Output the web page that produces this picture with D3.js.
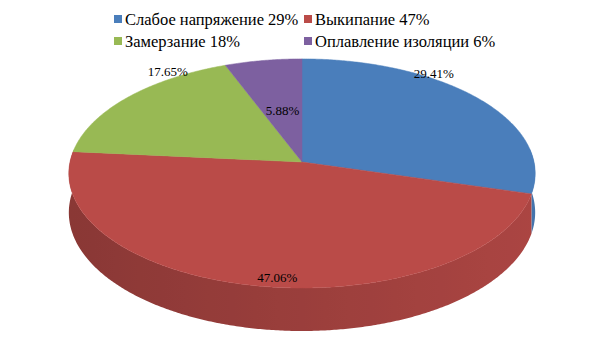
<!DOCTYPE html>
<html><head><meta charset="utf-8">
<script src="https://cdn.jsdelivr.net/npm/d3@7"></script>
<style>body{margin:0;background:#fff}svg{display:block}</style>
</head><body>
<svg id="c" width="605" height="340"></svg>
<script>
// ---- data ----
const categories = ["Слабое напряжение", "Выкипание", "Замерзание", "Оплавление изоляции"];
const values = [29.41, 47.06, 17.65, 5.88];
const legendPercents = ["29%", "47%", "18%", "6%"];
const colors = ["#4A7EBB", "#BA4B48", "#98B954", "#7D60A0"];

// ---- layout ----
const W = 605, H = 340;
const cx = 302, cy = 162;      // pie centre on screen
const rx = 232, ry = 113.4;    // radii
const persp = 0.1;             // perspective factor
const depth = 38.7;            // cylinder height
const labelShift = [-17, -4.6, 17, 0];     // degrees from slice mid angle
const labelRadius = [1.05, 0.93, 1.07, 0.48];

const svg = d3.select("#c");
const defs = svg.append("defs");
const total = d3.sum(values);
const pie = d3.pie().sort(null).value(d => d).startAngle(0).endAngle(2 * Math.PI);
const arcs = pie(values);

function proj(theta, r, dz) {
  const u = r * Math.sin(theta), v = r * Math.cos(theta);
  const w = 1 + persp * v;
  return [cx + rx * u / w, cy - ry * v / w + (dz || 0) / w];
}
function shade(theta) { return 0.17 + 0.09 * (-Math.sin(theta)); }

// side walls: one path per slice (front half), horizontal gradient
const lo = Math.PI / 2 - 0.12, hi = 3 * Math.PI / 2 + 0.12;
const sideG = svg.append("g");
arcs.forEach((a, i) => {
  const a0 = Math.max(a.startAngle, lo), a1 = Math.min(a.endAngle, hi);
  if (a1 <= a0) return;
  const gid = "g" + i;
  const grad = defs.append("linearGradient").attr("id", gid)
    .attr("gradientUnits", "userSpaceOnUse")
    .attr("x1", cx - rx).attr("x2", cx + rx).attr("y1", 0).attr("y2", 0);
  for (let s = 0; s <= 20; s++) {
    const f = s / 20;
    const th = Math.PI + Math.asin(Math.max(-1, Math.min(1, 1 - 2 * f)));
    grad.append("stop").attr("offset", f)
      .attr("stop-color", d3.interpolateRgb(colors[i], "#000")(shade(th)));
  }
  const n = Math.max(2, Math.ceil((a1 - a0) / (Math.PI / 360)));
  const top = [], bot = [];
  for (let j = 0; j <= n; j++) {
    const t = a0 + (a1 - a0) * j / n;
    top.push(proj(t, 1, 0));
    bot.push(proj(t, 1, depth));
  }
  const pts = top.concat(bot.reverse());
  sideG.append("path")
    .attr("d", "M" + pts.map(q => q.join(",")).join("L") + "Z")
    .attr("fill", "url(#" + gid + ")");
});

// top faces
const topG = svg.append("g");
arcs.forEach((a, i) => {
  const pts = [[cx, cy]];
  const n = Math.max(2, Math.ceil((a.endAngle - a.startAngle) / (Math.PI / 360)));
  for (let j = 0; j <= n; j++) {
    pts.push(proj(a.startAngle + (a.endAngle - a.startAngle) * j / n, 1, 0));
  }
  topG.append("path")
    .attr("d", "M" + pts.map(q => q.join(",")).join("L") + "Z")
    .attr("fill", colors[i]).attr("stroke", colors[i]).attr("stroke-width", 0.5);
});

// data labels
const fmt = d3.format(".2f");
const lblG = svg.append("g");
arcs.forEach((a, i) => {
  const mid = (a.startAngle + a.endAngle) / 2 + labelShift[i] * Math.PI / 180;
  const p = proj(mid, labelRadius[i], 0);
  lblG.append("text")
    .attr("x", p[0]).attr("y", p[1]).attr("dy", "0.35em")
    .attr("text-anchor", "middle")
    .attr("font-family", "'Liberation Serif', serif").attr("font-size", 13)
    .attr("fill", "#000")
    .text(fmt(a.value / total * 100) + "%");
});

// legend
const legX = [114, 304], legY = [25, 47];
const lg = svg.append("g");
categories.forEach((c, i) => {
  const col = i % 2, row = Math.floor(i / 2);
  lg.append("rect").attr("x", legX[col]).attr("y", legY[row] - 10).attr("width", 8).attr("height", 8)
    .attr("fill", colors[i]);
  lg.append("text").attr("x", legX[col] + 11).attr("y", legY[row])
    .attr("font-family", "'Liberation Serif', serif").attr("font-size", 16.5).attr("fill", "#000")
    .text(c + " " + legendPercents[i]);
});
</script>
</body></html>
